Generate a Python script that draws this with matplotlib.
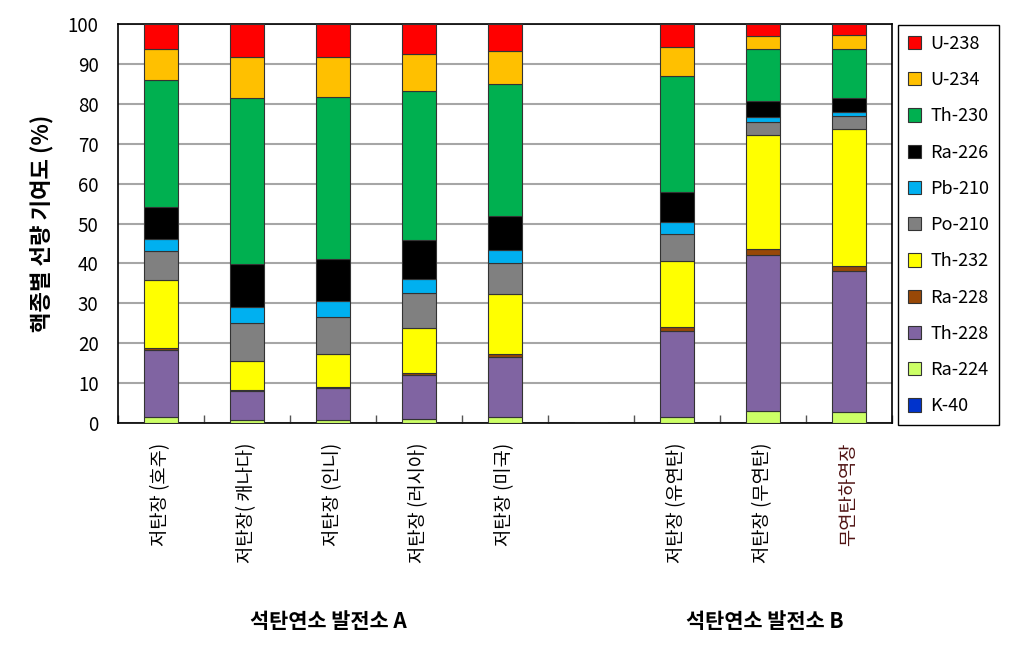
import numpy as np
import matplotlib.pyplot as plt

plt.rcParams['font.family'] = ['Noto Sans CJK KR', 'DejaVu Sans']

categories = ['저탄장 (호주)', '저탄장( 캐나다)', '저탄장 (인니)', '저탄장 (러시아)', '저탄장 (미국)', '',
              '저탄장 (유연탄)', '저탄장 (무연탄)', '무연탄하역장']

# 아래에서 위로 쌓는 순서 (%), 빈 칸은 0
K40   = [0.0, 0.0, 0.0, 0.0, 0.0, 0, 0.0, 0.0, 0.0]
Ra224 = [1.4, 0.7, 0.7, 0.9, 1.4, 0, 1.6, 3.0, 2.8]
Th228 = [16.9, 7.2, 8.0, 11.1, 15.1, 0, 21.4, 39.0, 35.4]
Ra228 = [0.5, 0.4, 0.4, 0.6, 0.7, 0, 1.0, 1.7, 1.1]
Th232 = [17.0, 7.2, 8.1, 11.1, 15.1, 0, 16.7, 28.4, 34.3]
Po210 = [7.2, 9.6, 9.4, 8.8, 7.9, 0, 6.6, 3.3, 3.3]
Pb210 = [3.2, 4.0, 4.0, 3.7, 3.2, 0, 3.1, 1.4, 1.0]
Ra226 = [8.0, 10.7, 10.5, 9.7, 8.5, 0, 7.6, 3.9, 3.6]
Th230 = [31.7, 41.6, 40.6, 37.3, 33.1, 0, 29.0, 13.0, 12.3]
U234  = [7.8, 10.3, 10.1, 9.3, 8.3, 0, 7.2, 3.4, 3.4]
U238  = [6.3, 8.3, 8.2, 7.5, 6.7, 0, 5.8, 2.9, 2.8]

series = [('K-40', K40, '#0033CC'), ('Ra-224', Ra224, '#CCFF66'), ('Th-228', Th228, '#8064A2'),
          ('Ra-228', Ra228, '#984807'), ('Th-232', Th232, '#FFFF00'), ('Po-210', Po210, '#808080'),
          ('Pb-210', Pb210, '#00B0F0'), ('Ra-226', Ra226, '#000000'), ('Th-230', Th230, '#00B050'),
          ('U-234', U234, '#FFC000'), ('U-238', U238, '#FF0000')]

fig = plt.figure(figsize=(10.3, 6.55), dpi=100)
ax = fig.add_axes([118/1030, 1-423/655, 774/1030, 399/655])

x = np.arange(len(categories))
bottom = np.zeros(len(categories))
handles = []
for name, vals, col in series:
    vals = np.array(vals, dtype=float)
    b = ax.bar(x, vals, 0.4, bottom=bottom, color=col, edgecolor='#333333', linewidth=0.8,
               label=name, zorder=3)
    handles.append(b)
    bottom += vals

ax.set_xlim(-0.5, len(categories) - 0.5)
ax.set_ylim(0, 100)
ax.set_yticks(np.arange(0, 101, 10))
ax.tick_params(axis='y', length=0, labelsize=13.5, pad=14)
ax.grid(axis='y', color='#A6A6A6', linewidth=1.5, zorder=0)
ax.set_axisbelow(True)

ax.set_xticks(x)
ax.set_xticklabels(categories, rotation=90, fontsize=13.5)
ax.tick_params(axis='x', length=0, pad=14)
ax.set_xticks(np.arange(-0.5, len(categories)), minor=True)
ax.tick_params(axis='x', which='minor', direction='in', length=6, width=1, color='#555555')
ax.get_xticklabels()[-1].set_color('#501414')

for s in ax.spines.values():
    s.set_color('black')
    s.set_linewidth(1.2)

ax.set_ylabel('핵종별 선량 기여도 (%)', fontsize=16, fontweight='bold', labelpad=10)

fig.text(328/1030, 1-622/655, '석탄연소 발전소 A', ha='center', va='center', fontsize=15, fontweight='bold')
fig.text(765/1030, 1-622/655, '석탄연소 발전소 B', ha='center', va='center', fontsize=15, fontweight='bold')

leg = fig.legend(handles[::-1], [h.get_label() for h in handles[::-1]],
                 loc='upper left', bbox_to_anchor=(898/1030, 1-25/655),
                 fontsize=13, handlelength=0.75, handleheight=0.75, handletextpad=0.5,
                 labelspacing=1.01, borderpad=0.55, borderaxespad=0, fancybox=False,
                 edgecolor='black', framealpha=1)
leg.get_frame().set_linewidth(1.0)

fig.savefig('out.png', dpi=100)
